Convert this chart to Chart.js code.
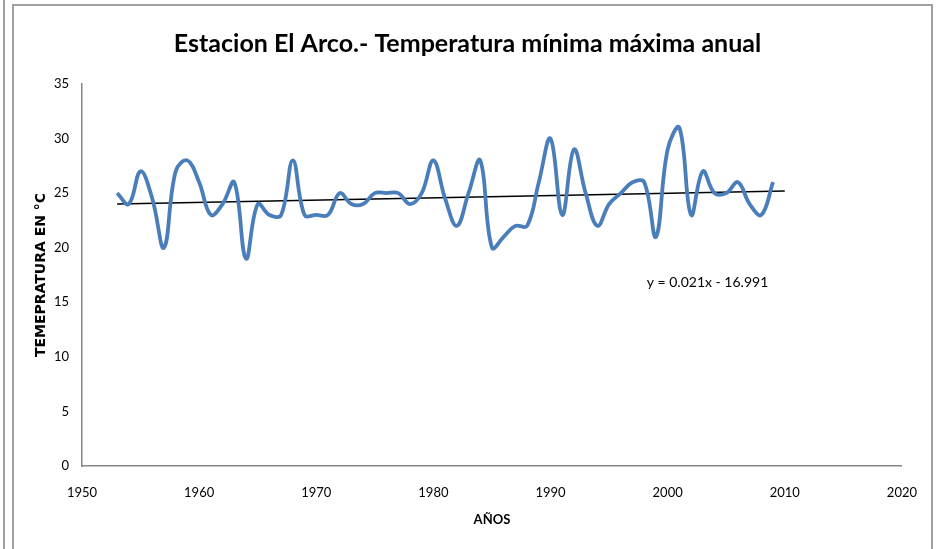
<!DOCTYPE html>
<html>
<head>
<meta charset="utf-8">
<script src="https://cdn.jsdelivr.net/npm/chart.js@4"></script>
<style>
  body { margin: 0; background: #fff; }
  #wrap { position: relative; width: 936px; height: 549px; }
</style>
</head>
<body>
<div id="wrap"><canvas id="chart" width="936" height="549"></canvas></div>
<script>
// Datos
const years = [1953, 1954, 1955, 1956, 1957, 1958, 1959, 1960, 1961, 1962,
               1963, 1964, 1965, 1966, 1967, 1968, 1969, 1970, 1971, 1972,
               1973, 1974, 1975, 1976, 1977, 1978, 1979, 1980, 1981, 1982,
               1983, 1984, 1985, 1986, 1987, 1988, 1989, 1990, 1991, 1992,
               1993, 1994, 1995, 1996, 1997, 1998, 1999, 2000, 2001, 2002,
               2003, 2004, 2005, 2006, 2007, 2008, 2009];
const tempValues = [25, 24, 27, 24.5, 20, 27, 28, 26, 23, 24,
                    26, 19, 24, 23, 23, 28, 23, 23, 23, 25,
                    24, 24, 25, 25, 25, 24, 25, 28, 24.5, 22,
                    25, 28, 20, 21, 22, 22, 26, 30, 23, 29,
                    25, 22, 24, 25, 26, 26, 21, 29, 31, 23,
                    27, 25, 25, 26, 24, 23, 26];
// Linea de tendencia (extremos leidos)
const trendYears = [1953, 2010];
const trendValues = [24.0, 25.2];
const trendLabel = 'y = 0.021x - 16.991';
const xTicks = [1950, 1960, 1970, 1980, 1990, 2000, 2010, 2020];
const yTicks = [0, 5, 10, 15, 20, 25, 30, 35];

const calib = 'Lato, "Liberation Sans", sans-serif';

// Marco exterior del grafico
const framePlugin = {
    id: 'frame',
    beforeDraw(chart) {
        const ctx = chart.ctx;
        ctx.save();
        ctx.fillStyle = '#fff';
        ctx.fillRect(0, 0, chart.width, chart.height);
        ctx.strokeStyle = '#a0a0a0';
        ctx.lineWidth = 2;
        ctx.strokeRect(13, 5, 919, 560);
        ctx.beginPath();
        ctx.moveTo(4, 0);
        ctx.lineTo(4, chart.height);
        ctx.stroke();
        ctx.restore();
    }
};

// Etiqueta de la ecuacion de tendencia
const equationPlugin = {
    id: 'equation',
    afterDatasetsDraw(chart) {
        const ctx = chart.ctx;
        const x = chart.scales.x.getPixelForValue(2003.4);
        const y = chart.scales.y.getPixelForValue(16.8);
        ctx.save();
        ctx.font = '14px ' + calib;
        ctx.fillStyle = '#000';
        ctx.textAlign = 'center';
        ctx.textBaseline = 'middle';
        ctx.fillText(trendLabel, x, y);
        ctx.restore();
    }
};

new Chart(document.getElementById('chart'), {
    type: 'line',
    data: {
        datasets: [{
            label: 'Temperatura',
            data: years.map((yr, i) => ({ x: yr, y: tempValues[i] })),
            borderColor: '#4a7ebb',
            borderWidth: 3.8,
            pointRadius: 0,
            tension: 0.4,
            fill: false
        }, {
            label: 'Tendencia',
            data: trendYears.map((yr, i) => ({ x: yr, y: trendValues[i] })),
            borderColor: '#000',
            borderWidth: 1.5,
            pointRadius: 0,
            tension: 0,
            fill: false
        }]
    },
    options: {
        responsive: false,
        animation: false,
        layout: { padding: { left: 33, right: 34, top: 0, bottom: 21 } },
        plugins: {
            legend: { display: false },
            tooltip: { enabled: false },
            title: {
                display: true,
                text: 'Estacion El Arco.- Temperatura mínima máxima anual',
                color: '#000',
                font: { family: calib, size: 25, weight: 'bold' },
                padding: { top: 29, bottom: 25 }
            }
        },
        scales: {
            x: {
                type: 'linear',
                min: 1950,
                max: 2020,
                afterBuildTicks: (scale) => { scale.ticks = xTicks.map(v => ({ value: v })); },
                afterFit: (scale) => { scale.height = 62; },
                grid: { display: false, drawTicks: false },
                border: { display: true, color: '#868686', width: 1.5 },
                ticks: {
                    color: '#000',
                    padding: 19,
                    maxRotation: 0,
                    font: { family: calib, size: 13 },
                    callback: (v) => String(v)
                },
                title: {
                    display: true,
                    text: 'AÑOS',
                    color: '#000',
                    font: { family: calib, size: 13, weight: 'bold' },
                    padding: { top: 10, bottom: 0 }
                }
            },
            y: {
                min: 0,
                max: 35,
                afterBuildTicks: (scale) => { scale.ticks = yTicks.map(v => ({ value: v })); },
                afterFit: (scale) => { scale.width = 49; },
                grid: { display: false, drawTicks: false },
                border: { display: true, color: '#868686', width: 1.5 },
                ticks: {
                    color: '#000',
                    padding: 13,
                    font: { family: calib, size: 13 }
                },
                title: {
                    display: true,
                    text: 'TEMEPRATURA EN °C',
                    color: '#000',
                    font: { family: '"DejaVu Sans", sans-serif', size: 14, weight: 'bold' },
                    padding: { top: 0, bottom: 6 }
                }
            }
        }
    },
    plugins: [framePlugin, equationPlugin]
});
</script>
</body>
</html>
